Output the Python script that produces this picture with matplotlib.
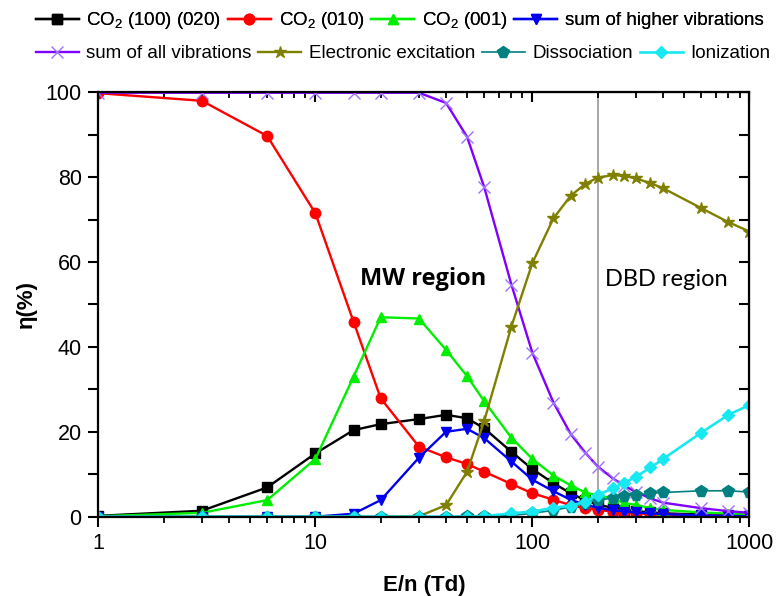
import numpy as np
import matplotlib
matplotlib.use("Agg")
import matplotlib.pyplot as plt
from matplotlib.ticker import LogLocator, NullFormatter, FixedLocator

plt.rcParams['font.family'] = ['Liberation Sans', 'DejaVu Sans']
plt.rcParams['mathtext.fontset'] = 'custom'
plt.rcParams['mathtext.rm'] = 'Liberation Sans'
plt.rcParams['mathtext.it'] = 'Liberation Sans'

# reduced electric field E/n (Td)
en = [1, 3, 6, 10, 15, 20, 30, 40, 50, 60, 80, 100, 125, 150, 175, 200,
      235, 265, 300, 350, 400, 600, 800, 1000]

co2_100_020 = [0.2, 1.4, 6.9, 14.9, 20.4, 21.8, 23.0, 24.0, 23.2, 20.8, 15.3, 11.2,
               7.9, 5.5, 3.9, 2.8, 2.1, 1.6, 1.3, 1.0, 0.8, 0.5, 0.3, 0.2]
co2_010 = [99.8, 98.0, 89.7, 71.5, 45.9, 27.9, 16.5, 14.0, 12.4, 10.6, 7.7, 5.5,
           4.0, 2.7, 2.0, 1.6, 1.2, 1.0, 0.8, 0.6, 0.5, 0.3, 0.2, 0.1]
co2_001 = [0.1, 0.9, 3.9, 13.6, 33.0, 47.0, 46.7, 39.3, 33.1, 27.2, 18.6, 13.6,
           9.7, 7.4, 5.7, 5.0, 4.3, 3.2, 2.8, 2.0, 1.6, 1.0, 0.7, 0.5]
higher_vib = [0.0, 0.0, 0.0, 0.0, 0.7, 3.9, 13.9, 20.0, 20.7, 18.5, 13.0, 8.7,
              6.0, 4.0, 2.8, 2.1, 1.5, 1.2, 1.0, 0.8, 0.6, 0.3, 0.2, 0.1]
all_vib = [99.9, 99.9, 99.9, 99.9, 99.9, 99.9, 99.9, 97.5, 89.5, 77.6, 54.7, 38.6,
           26.9, 19.5, 15.1, 11.8, 9.0, 7.3, 5.8, 4.3, 3.3, 2.0, 1.3, 0.9]
electronic = [0.0, 0.0, 0.0, 0.0, 0.0, 0.0, 0.1, 2.7, 10.6, 22.6, 44.8, 59.8,
              70.3, 75.6, 78.4, 79.9, 80.5, 80.3, 79.7, 78.6, 77.4, 72.7, 69.4, 67.2]
dissociation = [0.0, 0.0, 0.0, 0.0, 0.0, 0.0, 0.0, 0.0, 0.1, 0.1, 0.3, 0.8,
                1.5, 2.3, 3.2, 3.9, 4.4, 4.9, 5.1, 5.5, 5.7, 6.1, 6.1, 5.8]
ionization = [0.0, 0.0, 0.0, 0.0, 0.0, 0.0, 0.0, 0.0, 0.0, 0.1, 0.8, 1.2,
              2.1, 2.6, 3.5, 5.1, 6.7, 8.0, 9.4, 11.6, 13.6, 19.8, 24.0, 26.3]

labels = ['CO$_2$ (100) (020)', 'CO$_2$ (010)', 'CO$_2$ (001)', 'sum of higher vibrations',
          'sum of all vibrations', 'Electronic excitation', 'Dissociation', 'Ionization']

fig = plt.figure(figsize=(7.78, 5.96), dpi=100)
ax = fig.add_axes([0.1264, 0.1331, 0.8369, 0.712])

ax.axvline(200, color='#a0a0a0', lw=1.3, zorder=0)

h = []
h += ax.plot(en, co2_100_020, '-s', color='black', lw=1.7, ms=6.5, label=labels[0])
h += ax.plot(en, co2_010, '-o', color='#ff0000', lw=1.7, ms=7.5, label=labels[1])
h += ax.plot(en, co2_001, '-^', color='#00ee00', lw=1.7, ms=7.5, label=labels[2])
h += ax.plot(en, higher_vib, '-v', color='#0000ee', lw=1.7, ms=7.5, label=labels[3])
h += ax.plot(en, all_vib, '-x', color='#7f00ff', mec='#a070ff', lw=1.7, ms=9, mew=1.0, label=labels[4])
h += ax.plot(en, electronic, '-*', color='#808000', lw=1.7, ms=9, label=labels[5])
h += ax.plot(en, dissociation, '-p', color='#008080', lw=1.2, ms=8.5, label=labels[6])
h += ax.plot(en, ionization, '-D', color='#18e8f0', lw=1.9, ms=6.5, label=labels[7])

ax.set_xscale('log')
ax.set_xlim(1, 1000)
ax.set_ylim(0, 100)
ax.set_xticks([1, 10, 100, 1000])
ax.set_xticklabels(['1', '10', '100', '1000'])
ax.xaxis.set_minor_locator(LogLocator(base=10, subs=np.arange(2, 10)))
ax.xaxis.set_minor_formatter(NullFormatter())
ax.set_yticks([0, 20, 40, 60, 80, 100])
ax.yaxis.set_minor_locator(FixedLocator([10, 30, 50, 70, 90]))

for s in ax.spines.values():
    s.set_linewidth(1.6)
ax.tick_params(which='major', direction='out', length=7, width=1.5, labelsize=15.5, pad=5)
ax.tick_params(axis='y', which='minor', direction='out', length=7, width=1.5)
ax.tick_params(axis='x', which='minor', direction='out', length=4, width=1.3)

top = ax.secondary_xaxis('top')
top.set_xticks([1, 10, 100, 1000])
top.xaxis.set_minor_locator(LogLocator(base=10, subs=np.arange(2, 10)))
top.tick_params(which='major', direction='in', length=7, width=1.5, labeltop=False)
top.tick_params(which='minor', direction='in', length=4, width=1.3)
top.xaxis.set_minor_formatter(NullFormatter())
top.set_xticklabels([])

right = ax.secondary_yaxis('right')
right.set_yticks([0, 20, 40, 60, 80, 100])
right.yaxis.set_minor_locator(FixedLocator([10, 30, 50, 70, 90]))
right.tick_params(which='both', direction='in', length=7, width=1.5, labelright=False)
right.set_yticklabels([])

ax.set_xlabel('E/n (Td)', fontsize=16, fontweight='bold', labelpad=15)
ax.set_ylabel('η(%)', fontsize=16, fontweight='bold', labelpad=6)

ax.text(16.0, 56, 'MW region', fontsize=17, fontweight='bold', family=['Open Sans', 'DejaVu Sans'],
        va='center', ha='left')
ax.text(216, 56, 'DBD region', fontsize=17, family=['Lato', 'DejaVu Sans'],
        va='center', ha='left')

leg_kw = dict(ncol=4, frameon=False, fontsize=13.5, handlelength=2.3, handletextpad=0.4,
              columnspacing=0.35, borderaxespad=0, borderpad=0)
leg1 = fig.legend(h[:4], labels[:4], loc='center left', bbox_to_anchor=(0.046, 0.965), **leg_kw)
fig.add_artist(leg1)
fig.legend(h[4:], labels[4:], loc='center left', bbox_to_anchor=(0.046, 0.91), **leg_kw)

fig.savefig('out.png', dpi=100)
